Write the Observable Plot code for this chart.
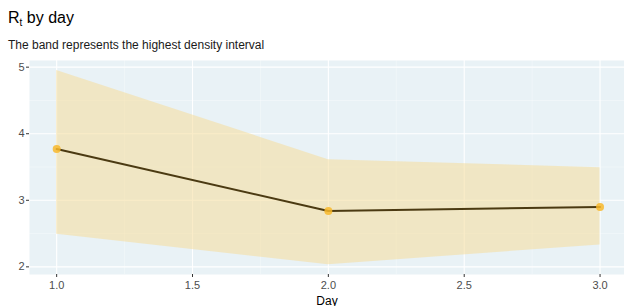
<!DOCTYPE html>
<html><head><meta charset="utf-8">
<script src="https://cdn.jsdelivr.net/npm/d3@7"></script>
<script src="https://cdn.jsdelivr.net/npm/@observablehq/plot@0.6"></script>
<style>
body{margin:0;background:#fff;font-family:"Liberation Sans",Arial,sans-serif;width:624px;height:306px;overflow:hidden;position:relative}
#title{position:absolute;left:8px;top:9px;font-size:16px;color:#000;line-height:18px}
#title sub{font-size:10px;vertical-align:-3px;line-height:0}
#subtitle{position:absolute;left:8px;top:38px;font-size:12px;color:#1a1a1a;line-height:14px}
#chart{position:absolute;left:0;top:52px}
</style></head>
<body>
<div id="title">R<sub>t</sub> by day</div>
<div id="subtitle">The band represents the highest density interval</div>
<div id="chart"></div>
<script>
const days = [1, 2, 3];
const rtMean = [3.77, 2.84, 2.90];
const rtLower = [2.49, 2.03, 2.33];
const rtUpper = [4.95, 3.61, 3.49];
const xTicks = [1.0, 1.5, 2.0, 2.5, 3.0];
const xMinor = [1.25, 1.75, 2.25, 2.75];
const yTicks = [2, 3, 4, 5];
const yMinor = [2.5, 3.5, 4.5];

const data = days.map((d, i) => ({day: d, mean: rtMean[i], lo: rtLower[i], hi: rtUpper[i]}));

const chart = Plot.plot({
  width: 624,
  height: 254,
  marginLeft: 29,
  marginRight: 0,
  marginTop: 8,
  marginBottom: 32,
  style: {fontFamily: "Liberation Sans, Arial, sans-serif", fontSize: "11px", background: "transparent"},
  x: {domain: [0.9, 3.09], label: null},
  y: {domain: [1.885, 5.1], label: null},
  marks: [
    Plot.frame({fill: "#E9F2F6", stroke: null}),
    Plot.gridY(yMinor, {stroke: "#fff", strokeOpacity: 0.55, strokeWidth: 0.6}),
    Plot.gridX(xMinor, {stroke: "#fff", strokeOpacity: 0.55, strokeWidth: 0.6}),
    Plot.gridY(yTicks, {stroke: "#fff", strokeOpacity: 1, strokeWidth: 1.1}),
    Plot.gridX(xTicks, {stroke: "#fff", strokeOpacity: 1, strokeWidth: 1.1}),
    Plot.areaY(data, {x: "day", y1: "lo", y2: "hi", fill: "#F5DC9A", fillOpacity: 0.55}),
    Plot.line(data, {x: "day", y: "mean", stroke: "#4B3A12", strokeWidth: 2}),
    Plot.dot(data, {x: "day", y: "mean", r: 4, fill: "#F8B92C", fillOpacity: 0.85, stroke: null}),
    Plot.axisY(yTicks, {tickSize: 3, tickPadding: 2, stroke: "#333", color: "#4d4d4d", fontSize: 11, tickFormat: d3.format("d"), label: null}),
    Plot.axisX(xTicks, {tickSize: 3, tickPadding: 4, stroke: "#333", color: "#4d4d4d", fontSize: 11, tickFormat: d3.format(".1f"), label: null}),
    Plot.text(["Day"], {frameAnchor: "bottom", dy: 30, fontSize: 12, fill: "#000", lineAnchor: "bottom"})
  ]
});
document.getElementById("chart").appendChild(chart);
</script>
</body></html>
